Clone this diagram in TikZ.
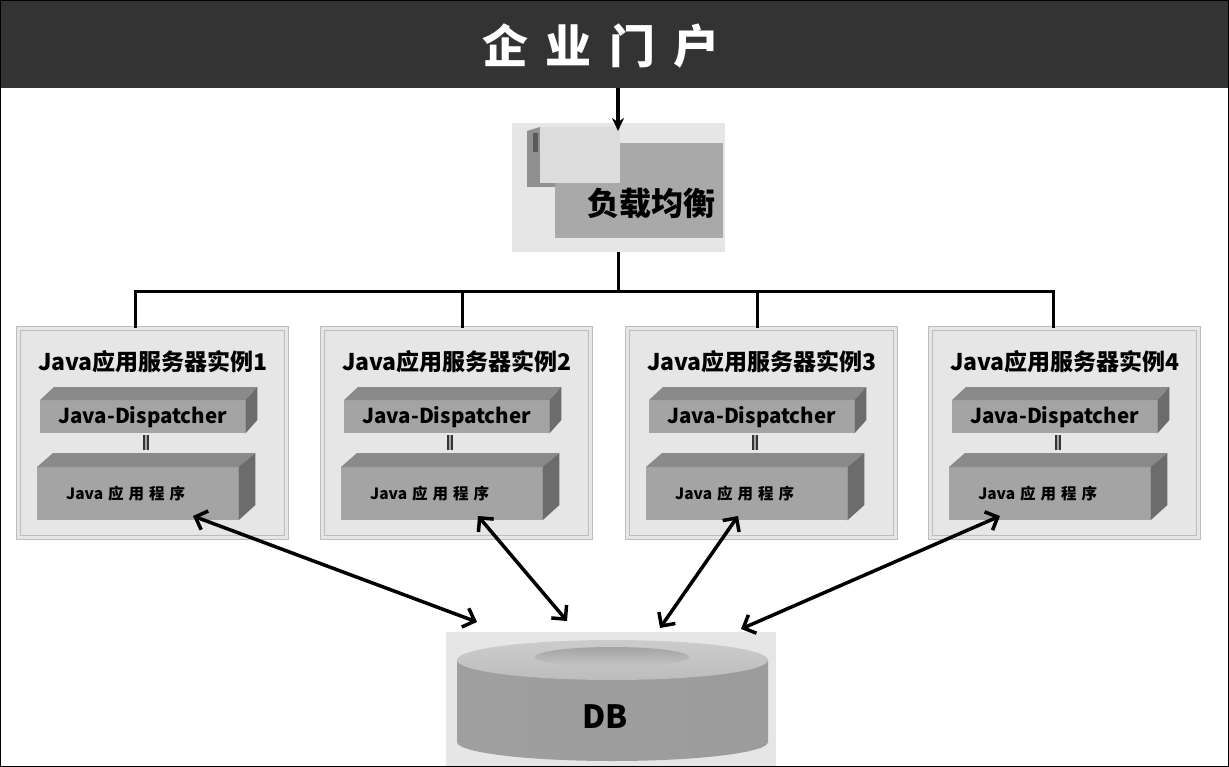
\documentclass[tikz,border=0pt]{standalone}
\usepackage{fontspec}
\setmainfont{Noto Sans CJK SC}
\usetikzlibrary{arrows.meta, positioning, calc}

\definecolor{titlebar}{HTML}{333333}
\definecolor{panel}{HTML}{E6E6E6}
\definecolor{panelline}{HTML}{BDBDBD}
\definecolor{blockfront}{HTML}{A4A4A4}
\definecolor{blocktop}{HTML}{8A8A8A}
\definecolor{blockside}{HTML}{6C6C6C}
\definecolor{lbinner}{HTML}{A9A9A9}
\definecolor{lbcard}{HTML}{DCDCDC}

\begin{document}
\begin{tikzpicture}[x=1pt, y=-1pt,
    every node/.style={inner sep=0pt},
    panelbox/.style={rectangle, fill=panel, draw=panelline, line width=0.9pt, double=panel, double distance=2.5pt, minimum width=268pt, minimum height=209pt},
    headtext/.style={font=\bfseries\fontsize{23}{26}\selectfont},
    dispbox/.style={rectangle, fill=blockfront, minimum width=205pt, minimum height=33pt, font=\bfseries\fontsize{20.5}{23}\selectfont},
    appbox/.style={rectangle, fill=blockfront, minimum width=201pt, minimum height=53pt, font=\bfseries\fontsize{15.5}{17}\selectfont},
    wire/.style={line width=3pt},
    linkbar/.style={draw=black!80, line width=1.3pt, double=gray!70, double distance=2.5pt},
    feedarrow/.style={line width=3.5pt, -{Stealth[length=13pt, width=12pt]}},
    dblarrow/.style={line width=3.5pt, {Straight Barb[length=10pt, width=20pt]}-{Straight Barb[length=10pt, width=20pt]}}
]
\useasboundingbox (0,0) rectangle (1229,767);

% Title bar
\node[fill=titlebar, minimum width=1229pt, minimum height=88pt, anchor=north west] (bar) at (0,0) {};
\node[text=white, font=\bfseries\fontsize{46}{50}\selectfont] (title) at (601,46) {企\hspace{18pt}业\hspace{18pt}门\hspace{18pt}户};

% Load balancer
\node[fill=panel, minimum width=213pt, minimum height=129pt] (lb) at (618,187.5) {};
\node[fill=lbinner, minimum width=168pt, minimum height=95pt, anchor=north west] (lbpanel) at (555,143) {};
\fill[lbinner!85!black] (527,131) -- (540,127) -- (540,183) -- (555,183) -- (555,187) -- (527,187) -- cycle;
\fill[black!65] (533,133) rectangle (538,152);
\node[fill=lbcard, minimum width=80pt, minimum height=56pt, anchor=north west] (lbcard) at (540,127) {};
\node[font=\bfseries\fontsize{32}{36}\selectfont] (lbtext) at (651,203) {负载均衡};

\coordinate (lbin) at (618,131);
\draw[feedarrow] (bar.south -| lbin) -- (lbin);

\coordinate (bus) at (618,292);
\draw[wire] (lb.south) -- (bus);

% DB
\node[fill=panel, minimum width=330pt, minimum height=135pt, anchor=north west] (dbbox) at (446,632) {};
\shade[left color=gray!75, middle color=gray!42, right color=gray!78]
    (457,660) -- (457,742) arc[start angle=180, end angle=0, x radius=155.5, y radius=19] -- (768,660) -- cycle;
\shade[top color=gray!40, bottom color=gray!52] (612.5,660) ellipse[x radius=155.5, y radius=20];
\shade[top color=gray!72, bottom color=gray!45] (612,657) ellipse[x radius=77, y radius=10];
\node[font=\bfseries\fontsize{32}{36}\selectfont] (db) at (605,717) {DB};

% Server instances
\foreach \k/\x/\lx/\ax/\dx/\dy in {1/18/135/193/477/622, 2/322/462/478/567/621, 3/627/757/738/660/628, 4/930/1053/1000/741/629}{
    \node[panelbox, anchor=north west] (inst\k) at (\x,328) {};
    \node[headtext] (head\k) at (\x+135,362) {Java应用服务器实例\k};

    \node[dispbox, anchor=north west] (disp\k) at (\x+22,400) {\raisebox{-2pt}{Java-Dispatcher}};
    \fill[blocktop] (disp\k.north west) -- ++(14,-13) -- ($(disp\k.north east)+(12,-13)$) -- (disp\k.north east) -- cycle;
    \fill[blockside] (disp\k.north east) -- ++(12,-13) -- ++(0,33) -- (disp\k.south east) -- cycle;

    \node[appbox, anchor=north west] (app\k) at (\x+19,467) {\hspace*{-24pt}Java\hspace{5pt}应\hspace{5pt}用\hspace{5pt}程\hspace{5pt}序};
    \fill[blocktop] (app\k.north west) -- ++(16,-14) -- ($(app\k.north east)+(17,-14)$) -- (app\k.north east) -- cycle;
    \fill[blockside] (app\k.north east) -- ++(17,-14) -- ++(0,52) -- (app\k.south east) -- cycle;

    \draw[linkbar] ([xshift=106pt, yshift=-2pt]disp\k.south west) -- ++(0,15);

    \coordinate (drop\k) at (\lx,328);
    \draw[wire] (bus) -| (drop\k);

    \coordinate (from\k) at (\ax,516);
    \coordinate (to\k) at (\dx,\dy);
    \draw[dblarrow] (from\k) -- (to\k);
}

% Frame
\draw[line width=1.2pt] (0.6,0.6) rectangle (1228.4,766.4);

\end{tikzpicture}
\end{document}
